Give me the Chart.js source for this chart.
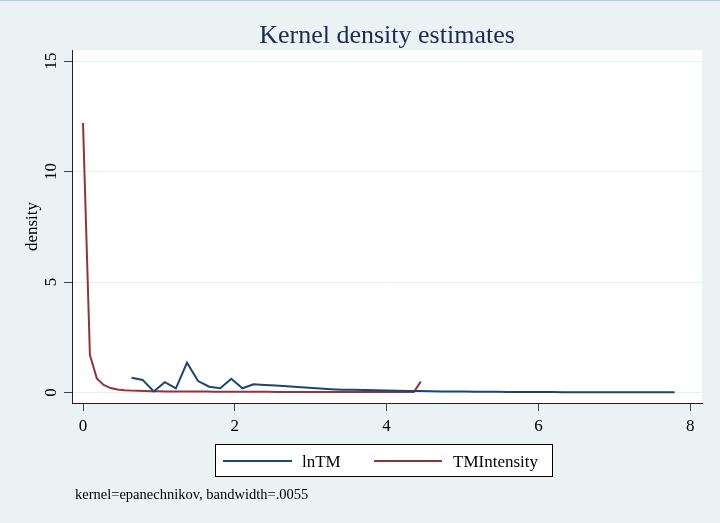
<!DOCTYPE html>
<html><head><meta charset="utf-8">
<script src="https://cdn.jsdelivr.net/npm/chart.js@4"></script>
<style>html,body{margin:0;padding:0;background:#eaf2f3;overflow:hidden}#wrap{width:720px;height:523px;position:relative}</style>
</head><body><div id="wrap"><canvas id="c" width="720" height="523"></canvas></div>
<script>
const chartTitle = "Kernel density estimates";
const yAxisTitle = "density";
const noteText = "kernel=epanechnikov, bandwidth=.0055";
const seriesNames = ["lnTM", "TMIntensity"];
const seriesColors = ["#1a476f", "#90353b"];

const lnTM_x = [0.640,0.786,0.932,1.078,1.224,1.370,1.516,1.662,1.808,1.954,2.100,2.246,2.392,2.538,2.684,2.830,2.976,3.122,3.268,3.414,3.560,3.706,3.852,3.998,4.144,4.290,4.436,4.582,4.728,4.874,5.020,5.166,5.312,5.458,5.604,5.750,5.896,6.042,6.188,6.334,6.480,6.626,6.772,6.918,7.064,7.210,7.356,7.502,7.648,7.794];
const lnTM_y = [0.67,0.57,0.05,0.47,0.19,1.35,0.52,0.26,0.19,0.62,0.19,0.37,0.34,0.32,0.28,0.25,0.21,0.18,0.15,0.13,0.12,0.11,0.10,0.09,0.08,0.07,0.065,0.06,0.05,0.045,0.04,0.035,0.03,0.03,0.025,0.025,0.02,0.02,0.02,0.015,0.015,0.015,0.01,0.01,0.01,0.01,0.01,0.01,0.01,0.01];

const tmi_x = [0,0.091,0.182,0.272,0.363,0.454,0.545,0.636,0.726,0.817,0.908,0.999,1.090,1.181,1.271,1.362,1.453,1.544,1.635,1.725,1.816,1.907,1.998,2.089,2.180,2.270,2.361,2.452,2.543,2.634,2.724,2.815,2.906,2.997,3.088,3.179,3.269,3.360,3.451,3.542,3.633,3.724,3.814,3.905,3.996,4.087,4.178,4.268,4.359,4.450];
const tmi_y = [12.2,1.70,0.64,0.34,0.20,0.14,0.10,0.085,0.075,0.065,0.06,0.055,0.05,0.05,0.045,0.045,0.04,0.04,0.04,0.035,0.035,0.035,0.03,0.03,0.03,0.03,0.03,0.03,0.025,0.025,0.025,0.025,0.025,0.025,0.02,0.02,0.02,0.02,0.02,0.02,0.02,0.02,0.02,0.02,0.02,0.02,0.02,0.02,0.02,0.49];

const xTicks = [0, 2, 4, 6, 8];
const yTicks = [0, 5, 10, 15];

const serif = "'Liberation Serif', 'Times New Roman', serif";
const toPts = (xs, ys) => xs.map((x, i) => ({x: x, y: ys[i]}));

const decor = {
  id: 'decor',
  beforeDraw(chart) {
    const ctx = chart.ctx, a = chart.chartArea;
    ctx.save();
    ctx.fillStyle = '#eaf2f3';
    ctx.fillRect(0, 0, chart.width, chart.height);
    ctx.fillStyle = '#a9cfe4';
    ctx.fillRect(0, 0, chart.width, 1);
    ctx.fillStyle = '#ffffff';
    ctx.fillRect(a.left, a.top, a.right - a.left, a.bottom - a.top);
    ctx.restore();
  },
  afterDraw(chart) {
    const ctx = chart.ctx, a = chart.chartArea;
    ctx.save();
    // title
    ctx.fillStyle = '#1c2a4e';
    ctx.font = "26px " + serif;
    ctx.textAlign = 'center';
    ctx.textBaseline = 'alphabetic';
    ctx.fillText(chartTitle, (a.left + a.right) / 2, 43);
    // legend
    const bx = 215.5, by = 444.5, bw = 337, bh = 32;
    ctx.fillStyle = '#ffffff';
    ctx.fillRect(bx, by, bw, bh);
    ctx.strokeStyle = '#000000';
    ctx.lineWidth = 1;
    ctx.strokeRect(bx, by, bw, bh);
    const items = [{x0: 223, x1: 292, tx: 302}, {x0: 374, x1: 442, tx: 453}];
    ctx.font = "17px " + serif;
    ctx.textAlign = 'left';
    ctx.textBaseline = 'alphabetic';
    chart.data.datasets.forEach((ds, i) => {
      const it = items[i];
      ctx.strokeStyle = ds.borderColor;
      ctx.lineWidth = 2;
      ctx.beginPath();
      ctx.moveTo(it.x0, 461);
      ctx.lineTo(it.x1, 461);
      ctx.stroke();
      ctx.fillStyle = '#000000';
      ctx.fillText(ds.label, it.tx, 467);
    });
    // note
    ctx.font = "14.5px " + serif;
    ctx.fillStyle = '#000000';
    ctx.fillText(noteText, 75, 499);
    ctx.restore();
  }
};

new Chart(document.getElementById('c'), {
  type: 'line',
  data: {
    datasets: [
      {label: seriesNames[0], data: toPts(lnTM_x, lnTM_y), borderColor: seriesColors[0], backgroundColor: seriesColors[0], borderWidth: 2, pointRadius: 0, tension: 0, fill: false},
      {label: seriesNames[1], data: toPts(tmi_x, tmi_y), borderColor: seriesColors[1], backgroundColor: seriesColors[1], borderWidth: 2, pointRadius: 0, tension: 0, fill: false}
    ]
  },
  options: {
    responsive: false,
    animation: false,
    devicePixelRatio: 1,
    layout: {padding: {left: 0, right: 18, top: 50, bottom: 90}},
    plugins: {legend: {display: false}, title: {display: false}, tooltip: {enabled: false}},
    scales: {
      x: {
        type: 'linear', min: -0.145, max: 8.155,
        afterBuildTicks: s => { s.ticks = xTicks.map(v => ({value: v})); },
        afterFit: s => { s.height = 30; },
        grid: {drawOnChartArea: false, drawTicks: true, tickLength: 8, tickColor: '#444', tickWidth: 1},
        border: {display: true, color: '#222', width: 1},
        ticks: {color: '#000', font: {family: serif, size: 17}, padding: 5, maxRotation: 0, autoSkip: false}
      },
      y: {
        type: 'linear', min: -0.475, max: 15.5,
        afterBuildTicks: s => { s.ticks = yTicks.map(v => ({value: v})); },
        afterFit: s => { s.width = 72; },
        grid: {drawOnChartArea: true, color: '#e8f0f2', lineWidth: 1, drawTicks: true, tickLength: 8, tickColor: '#444', tickWidth: 1},
        border: {display: true, color: '#222', width: 1},
        ticks: {color: '#000', font: {family: serif, size: 17}, padding: 4, minRotation: 90, maxRotation: 90, crossAlign: 'center', autoSkip: false},
        title: {display: true, text: yAxisTitle, color: '#000', font: {family: serif, size: 17}, padding: {top: 22, bottom: 0}}
      }
    }
  },
  plugins: [decor]
});
</script></body></html>
